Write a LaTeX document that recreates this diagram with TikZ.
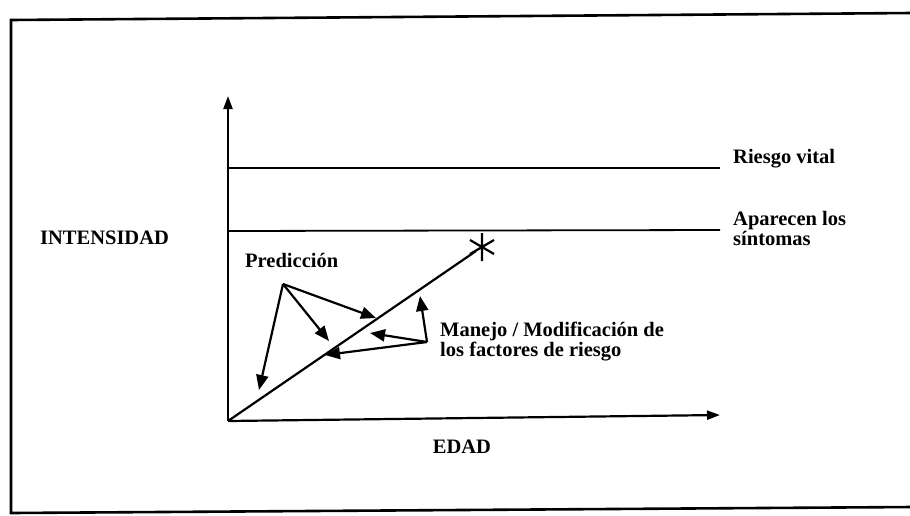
\documentclass[tikz,border=0pt]{standalone}
\usepackage{fontspec}
\setmainfont{Liberation Serif}
\usetikzlibrary{arrows.meta,calc}
\begin{document}
\begin{tikzpicture}[x=1pt,y=-1pt,
  lbl/.style={font=\fontsize{20.5}{20}\selectfont\bfseries, inner sep=0pt},
  axis/.style={line width=2.2pt, -{Triangle[length=13pt,width=9pt]}},
  arr/.style={line width=2.2pt, -{Triangle[length=15pt,width=12pt]}},
  lvl/.style={line width=1.8pt}]
\useasboundingbox (0,0) rectangle (910,515);
% frame
\draw[line width=2.6pt] (912,13) -- (11,20) -- (11,513) -- (912,507);
% axes
\coordinate (O) at (228,421);
\coordinate (Ytip) at (228,96);
\coordinate (Xtip) at (720,415);
\draw[axis] (O) -- (Ytip);
\draw[axis] (O) -- (Xtip);
% levels
\coordinate (r1) at (228,168);
\coordinate (r2) at (720,168);
\coordinate (a1) at (228,231);
\coordinate (a2) at (720,230);
\draw[lvl] (r1) -- (r2);
\draw[lvl] (a1) -- (a2);
\node[lbl, anchor=base west] (rv) at (733,163) {Riesgo vital};
\node[lbl, anchor=north west, align=left] (ap) at (733,211) {Aparecen los\\síntomas};
\node[lbl, anchor=west] (int) at (40,238) {INTENSIDAD};
\node[lbl, anchor=center] (edad) at (462,447) {EDAD};
% diagonal
\coordinate (S) at (482,247);
\coordinate (Send) at (476,251);
\draw[line width=2.2pt] (O) -- (Send);
% asterisk
\draw[line width=2.2pt] ($(S)+(0,-14)$) -- ($(S)+(0,14)$)
  ($(S)+(-12,-7)$) -- ($(S)+(12,7)$)
  ($(S)+(-12,7)$) -- ($(S)+(12,-7)$);
% prediccion
\node[lbl, anchor=base west] (pred) at (245,267) {Predicción};
\coordinate (P) at (283,284);
\coordinate (p1) at (259,390);
\coordinate (p2) at (329,341);
\coordinate (p3) at (376,318);
\draw[arr] (P) -- (p1);
\draw[arr] (P) -- (p2);
\draw[arr] (P) -- (p3);
% manejo
\node[lbl, anchor=north west, align=left] (man) at (440,322) {Manejo / Modificación de\\los factores de riesgo};
\coordinate (M) at (427,342);
\coordinate (m1) at (420,296);
\coordinate (m2) at (370,333);
\coordinate (m3) at (325,355);
\draw[arr] (M) -- (m1);
\draw[arr] (M) -- (m2);
\draw[arr] (M) -- (m3);
\end{tikzpicture}
\end{document}
